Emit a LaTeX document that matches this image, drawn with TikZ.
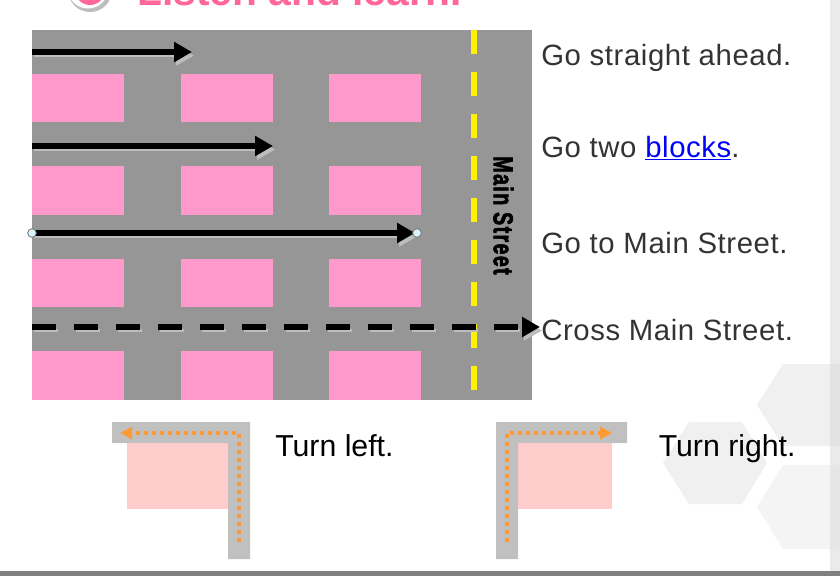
\documentclass[tikz,border=0pt]{standalone}
\usepackage{fontspec}
\setmainfont{Liberation Sans}
\newfontfamily\spaced[LetterSpace=2.0]{Liberation Sans}
\newfontfamily\heavy[LetterSpace=7.0,FakeBold=2.5]{Liberation Sans Bold}
\usetikzlibrary{arrows.meta}
\definecolor{roadgray}{HTML}{969696}
\definecolor{blockpink}{HTML}{FF99CC}
\definecolor{shadowgray}{HTML}{BDBDBD}
\definecolor{turngray}{HTML}{C0C0C0}
\definecolor{turnpink}{HTML}{FFCCCC}
\definecolor{dotorange}{HTML}{FF9933}
\definecolor{inkdark}{HTML}{333333}
\definecolor{titlepink}{HTML}{FF6699}
\definecolor{hexa}{HTML}{F0F0F0}
\definecolor{hexb}{HTML}{F4F4F4}
\definecolor{strip}{HTML}{EAEAEA}
\definecolor{stripa}{HTML}{E3E3E3}
\definecolor{stripb}{HTML}{E6E6E6}
\tikzset{
  block/.style={fill=blockpink,draw=none},
  bigarrow/.style={line width=4.5pt,draw=black,-{Triangle[length=13.5pt,width=14.5pt]}},
  bigshadow/.style={line width=2.6pt,draw=shadowgray,-{Triangle[length=13.5pt,width=14.5pt,fill=shadowgray]}},
  dashpat/.style={dash pattern=on 18pt off 13.5pt},
  saying/.style={anchor=base west,inner sep=0pt,text=inkdark,font=\fontsize{22pt}{24pt}\spaced},
  turntext/.style={anchor=base west,inner sep=0pt,text=black,font=\fontsize{22.7pt}{24pt}\selectfont},
  dotline/.style={draw=dotorange,line width=3.2pt,dash pattern=on 3pt off 3pt,-{Triangle[length=9pt,width=9pt,fill=dotorange]}},
  handle/.style={circle,draw=black!55,line width=.6pt,fill=cyan!15,inner sep=0pt,minimum size=6.5pt}
}
\begin{document}
\begin{tikzpicture}[x=0.75pt,y=-0.75pt]
\useasboundingbox (0,0) rectangle (840,576);
\clip (0,0) rectangle (840,576);
% decorative background
\fill[hexb] (757,507) -- (783,465) -- (830,465) -- (830,549) -- (783,549) -- cycle;
\fill[hexa] (757,405) -- (783,364) -- (830,364) -- (830,446) -- (783,446) -- cycle;
\fill[hexa] (663,463) -- (689,422) -- (742,422) -- (767,463) -- (742,504) -- (689,504) -- cycle;
\fill[strip] (830,0) rectangle (840,571);
\fill[stripa] (830,364) rectangle (840,446);
\fill[stripb] (830,465) rectangle (840,549);
\fill[black!50] (0,571) rectangle (840,576);
% title
\fill[shadowgray] (90,-10) circle (22);
\fill[white] (88,-12) circle (20.5);
\fill[titlepink] (90,-10) circle (15);
\node[anchor=base west,inner sep=0pt,text=titlepink,font=\fontsize{30.6pt}{32pt}\bfseries] (title) at (137,5) {Listen and learn.};
% road map
\fill[roadgray] (32,30) rectangle (532,400);
\foreach \yy/\hh in {74/122,166/215,259/307,351/400}{
  \foreach \xx/\ww in {32/124,181/273,329/421}{
    \fill[block] (\xx,\yy) rectangle (\ww,\hh);
  }
}
\draw[yellow,line width=4.5pt,dash pattern=on 18pt off 13.5pt] (474,30) -- (474,400);
\node[rotate=-90,inner sep=0pt] (mainst) at (503.5,215.5) {\scalebox{.72}[1]{\fontsize{20.5pt}{24pt}\heavy Main Street}};
% arrows
\coordinate (a1s) at (32,52); \coordinate (a1e) at (192,52);
\coordinate (a2s) at (32,146); \coordinate (a2e) at (273,146);
\coordinate (a3s) at (32,233); \coordinate (a3e) at (415,233);
\coordinate (a4s) at (32,327); \coordinate (a4e) at (540,327);
\foreach \s/\e in {a1s/a1e,a2s/a2e,a3s/a3e}{
  \draw[bigshadow] ([shift={(2,3.6)}]\s) -- ([shift={(2,3.6)}]\e);
  \draw[bigarrow] (\s) -- (\e);
}
\draw[bigshadow,dashpat] ([shift={(2,3.6)}]a4s) -- ([shift={(2,3.6)}]a4e);
\draw[bigarrow,dashpat] (a4s) -- (a4e);
\node[handle] (h1) at (a3s) {};
\node[handle] (h2) at (417,233) {};
% captions
\node[saying] (t1) at (541,65) {Go straight ahead.};
\node[saying] (t2) at (541,157) {Go two \textcolor{blue}{\underline{blocks}}.};
\node[saying] (t3) at (541,253) {Go to Main Street.};
\node[saying] (t4) at (541,340) {Cross Main Street.};
% turn left
\fill[turnpink] (127,443) rectangle (228,509);
\fill[turngray] (112,422) -- (250,422) -- (250,559) -- (228,559) -- (228,443) -- (112,443) -- cycle;
\coordinate (ls) at (239,542); \coordinate (lc) at (239,433); \coordinate (le) at (120,433);
\draw[dotline] (ls) -- (lc) -- (le);
\node[turntext] (tl) at (275,456) {Turn left.};
% turn right
\fill[turnpink] (518,443) rectangle (612,509);
\fill[turngray] (496,422) -- (627,422) -- (627,443) -- (518,443) -- (518,559) -- (496,559) -- cycle;
\coordinate (rs) at (507,542); \coordinate (rc) at (507,433); \coordinate (re) at (612,433);
\draw[dotline] (rs) -- (rc) -- (re);
\node[turntext] (tr) at (658.5,456) {Turn right.};
\end{tikzpicture}
\end{document}
